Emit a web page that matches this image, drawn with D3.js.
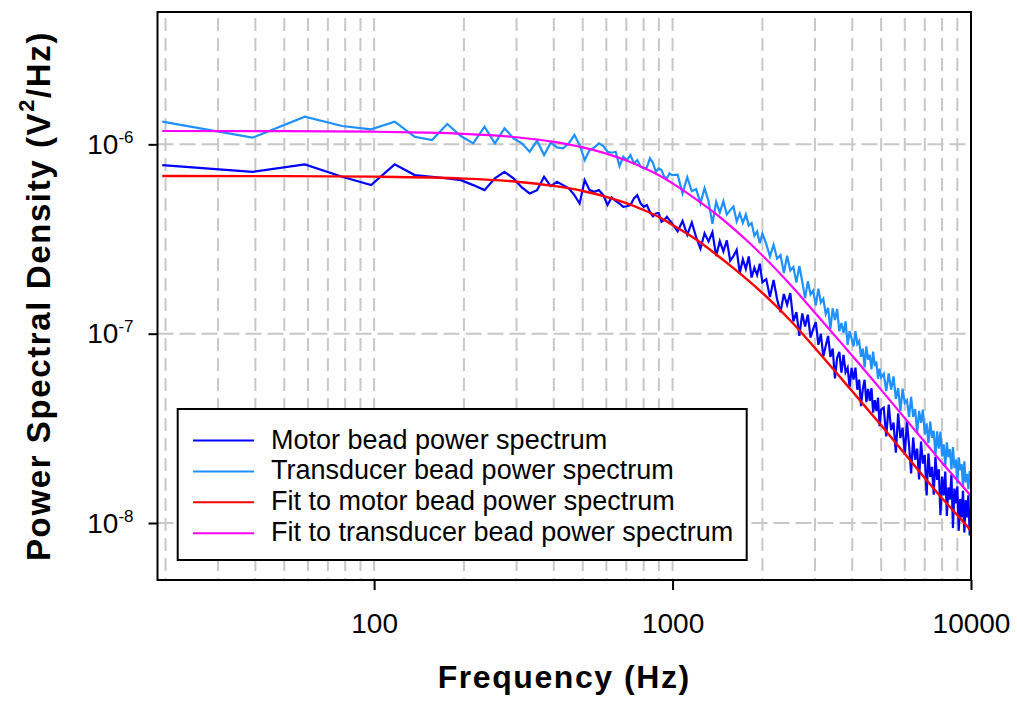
<!DOCTYPE html>
<html>
<head>
<meta charset="utf-8">
<script src="https://cdn.jsdelivr.net/npm/d3@7"></script>
<style>
  body { margin: 0; background: #fff; }
  text { font-family: "Liberation Sans", Arial, sans-serif; fill: #000; }
</style>
</head>
<body>
<div id="chart"></div>
<script>
// PSD values are written in units of 1e-9 V^2/Hz
const unit = 1e-9;

const freq = [
  19.5, 39.1, 58.6, 78.1, 97.7, 117.2, 136.7, 156.3, 175.8, 195.3,
  214.8, 234.4, 253.9, 273.4, 293, 312.5, 332, 351.6, 371.1, 390.6,
  410.2, 429.7, 449.2, 468.8, 488.3, 507.8, 527.3, 546.9, 566.4, 585.9,
  605.5, 625, 644.5, 664.1, 683.6, 703.1, 722.7, 742.2, 761.7, 781.3,
  800.8, 820.3, 839.8, 859.4, 878.9, 898.4, 918, 937.5, 957, 976.6,
  996.1,
  1040, 1080, 1120, 1160, 1200, 1240, 1280, 1320, 1360, 1400,
  1440, 1480, 1520, 1560, 1600, 1640, 1680, 1720, 1760, 1800,
  1840, 1880, 1920, 1960, 2000,
  2060, 2120, 2180, 2240, 2300, 2360, 2420, 2480, 2540, 2600,
  2660, 2720, 2780, 2840, 2900, 2960, 3020, 3080, 3140, 3200,
  3260, 3320, 3380, 3440, 3500, 3560, 3620, 3680, 3740, 3800,
  3860, 3920, 3980, 4040, 4100, 4160, 4220, 4280, 4340, 4400,
  4460, 4520, 4580, 4640, 4700, 4760, 4820, 4880, 4940, 5000,
  5100, 5200, 5300, 5400, 5500, 5600, 5700, 5800, 5900, 6000,
  6100, 6200, 6300, 6400, 6500, 6600, 6700, 6800, 6900, 7000,
  7100, 7200, 7300, 7400, 7500, 7600, 7700, 7800, 7900, 8000,
  8100, 8200, 8300, 8400, 8500, 8600, 8700, 8800, 8900, 9000,
  9100, 9200, 9300, 9400, 9500, 9600, 9700, 9800, 9900, 10000
];

const motorPsd = [
  777, 716, 784, 674, 609, 784, 688, 674, 661, 647,
  609, 573, 661, 716, 661, 592, 550, 573, 674, 602,
  634, 609, 585, 539, 487, 647, 573, 561, 573, 539,
  478, 524, 503, 487, 468, 471, 478, 518, 539, 487,
  468, 478, 440, 417, 431, 434, 390, 398, 414, 398,
  382,
  347, 394, 333, 387, 323, 281, 339, 307, 343, 257,
  308, 272, 311, 243, 257, 277, 209, 247, 220, 256,
  198, 223, 204, 234, 187,
  194, 156, 192, 152, 130, 162, 142, 164, 116, 130,
  97.3, 128, 109, 126, 95.4, 106, 115, 87.3, 99.7, 75.7,
  86.2, 97.3, 75.4, 83.5, 58.1, 74.7, 80.2, 62.2, 77.3, 62.6,
  66, 52.3, 65.9, 57.2, 66.1, 50.6, 57.2, 41.4, 51, 57.1,
  43.5, 51.1, 44.2, 51.6, 38.3, 44.6, 39, 45.9, 32.5, 39.7,
  40.7, 28.7, 42.2, 30.9, 33.9, 23.5, 37.9, 28.1, 31.9, 22.9,
  34.4, 25.8, 18.3, 28.3, 21.6, 24.7, 17, 26.9, 20.6, 22.9,
  14, 23.3, 17.5, 19.8, 14.1, 22.4, 16.9, 19.2, 11, 17.6,
  14, 18.7, 10.9, 15.4, 13.3, 18.1, 9.4, 15.2, 12.7, 15.6,
  9.1, 13.4, 10.7, 14.8, 8.9, 13.2, 10.7, 14, 8.6, 10.9
];

const transducerPsd = [
  1317, 1084, 1400, 1250, 1200, 1317, 1097, 1054, 1280, 1106,
  1012, 1239, 1012, 1215, 1076, 1012, 914, 1044, 878, 1020,
  964, 953, 1012, 1120, 991, 826, 933, 964, 1012, 980,
  914, 903, 914, 768, 860, 826, 878, 793, 826, 761,
  746, 755, 844, 799, 716, 746, 731, 674, 661, 702,
  688,
  692, 551, 670, 565, 580, 489, 587, 501, 380, 496,
  437, 501, 426, 449, 469, 391, 431, 385, 426, 372,
  384, 329, 346, 300, 338,
  298, 256, 295, 249, 260, 209, 258, 216, 225, 186,
  228, 188, 154, 189, 161, 169, 141, 173, 146, 153,
  127, 137, 106, 136, 118, 135, 103, 114, 101, 116,
  87.4, 103, 94.3, 85.6, 103, 88.2, 91.5, 75.5, 83.5, 66.4,
  85.6, 73, 77.2, 64.8, 80.4, 67.3, 71.1, 57.8, 65.3, 58.7,
  61.4, 49.7, 61.6, 50.6, 59.5, 45.2, 51.6, 39.1, 51.2, 43.1,
  44.5, 36.4, 46.4, 36.4, 40, 29.8, 39.1, 33.8, 39.7, 29.3,
  33.6, 26.4, 34.3, 28.2, 30.7, 22.7, 30.5, 24.7, 30.4, 22.5,
  26, 19.9, 26.7, 22.3, 24.5, 19.2, 25.2, 19.5, 21.6, 16.2,
  22.2, 19, 20.5, 15.6, 21.2, 16.4, 18.2, 15.1, 18.8, 16.5
];

const fitFreq = [19.5, 50, 100, 150, 200, 300, 400, 500, 600, 700, 800, 900, 1000,
  1200, 1400, 1600, 1800, 2000, 2500, 3000, 3500, 4000, 5000, 6000, 7000, 8000, 9000, 10000];
const motorFit = [680, 679, 675, 668, 659, 635, 603, 567, 528, 489, 450, 413, 375,
  314, 262, 222, 190, 164, 116, 84, 63.5, 49.6, 32.8, 23.2, 17.3, 13.5, 11.0, 9.1];
const transducerFit = [1176, 1173, 1166, 1153, 1136, 1090, 1031, 964, 893, 821, 752, 686, 622,
  512, 428, 359, 304, 259, 179, 129, 97.5, 76.5, 50.5, 35.8, 26.8, 20.8, 16.8, 13.9];

const seriesNames = [
  "Motor bead power spectrum",
  "Transducer bead power spectrum",
  "Fit to motor bead power spectrum",
  "Fit to transducer bead power spectrum"
];
const seriesColors = ["#0000ff", "#1e90ff", "#ff0000", "#ff00ff"];

const xTicks = [100, 1000, 10000];
const yTicks = [1e-6, 1e-7, 1e-8];
const yTickExp = ["-6", "-7", "-8"];

const width = 1017, height = 703;
const margin = { top: 12, right: 46, bottom: 123, left: 157.5 };
const bottom = height - margin.bottom;
const right = width - margin.right;

const svg = d3.select("#chart")
  .append("svg")
  .attr("width", width)
  .attr("height", height);

const x = d3.scaleLog().domain([18.8, 10000]).range([margin.left, right]);
const y = d3.scaleLog().domain([5e-9, 5e-6]).range([bottom, margin.top]);

// grid
svg.append("g")
  .selectAll("line")
  .data(x.ticks().filter(d => d < 10000))
  .join("line")
  .attr("x1", d => x(d)).attr("x2", d => x(d))
  .attr("y1", margin.top).attr("y2", bottom)
  .attr("stroke", "#c8c8c8")
  .attr("stroke-width", 2)
  .attr("stroke-dasharray", "13,7")
  .attr("stroke-dashoffset", -6);

svg.append("g")
  .selectAll("line")
  .data(yTicks)
  .join("line")
  .attr("x1", margin.left).attr("x2", right)
  .attr("y1", d => y(d)).attr("y2", d => y(d))
  .attr("stroke", "#c8c8c8")
  .attr("stroke-width", 2)
  .attr("stroke-dasharray", "16,6");

svg.append("clipPath").attr("id", "plotClip")
  .append("rect")
  .attr("x", margin.left).attr("y", margin.top)
  .attr("width", right - margin.left).attr("height", bottom - margin.top);

const plot = svg.append("g").attr("clip-path", "url(#plotClip)");

const dataLine = d3.line()
  .x((d, i) => x(freq[i]))
  .y(d => y(d * unit));

const fitLine = d3.line()
  .x((d, i) => x(fitFreq[i]))
  .y(d => y(d * unit))
  .curve(d3.curveMonotoneX);

plot.append("path").datum(motorPsd)
  .attr("d", dataLine).attr("fill", "none")
  .attr("stroke", seriesColors[0]).attr("stroke-width", 2.2)
  .attr("stroke-linejoin", "miter");

plot.append("path").datum(transducerPsd)
  .attr("d", dataLine).attr("fill", "none")
  .attr("stroke", seriesColors[1]).attr("stroke-width", 2.2)
  .attr("stroke-linejoin", "miter");

plot.append("path").datum(motorFit)
  .attr("d", fitLine).attr("fill", "none")
  .attr("stroke", seriesColors[2]).attr("stroke-width", 2.4);

plot.append("path").datum(transducerFit)
  .attr("d", fitLine).attr("fill", "none")
  .attr("stroke", seriesColors[3]).attr("stroke-width", 2.2);

// frame
svg.append("rect")
  .attr("x", margin.left).attr("y", margin.top)
  .attr("width", right - margin.left).attr("height", bottom - margin.top)
  .attr("fill", "none").attr("stroke", "#000").attr("stroke-width", 2);

// axes
const xAxis = svg.append("g")
  .attr("transform", `translate(0,${bottom})`)
  .call(d3.axisBottom(x).tickValues(xTicks).tickSize(10).tickPadding(23)
    .tickFormat(d3.format("d")));
xAxis.select(".domain").remove();
xAxis.selectAll("line").attr("stroke", "#000").attr("stroke-width", 2);
xAxis.selectAll("text")
  .style("font-family", '"Liberation Sans", Arial, sans-serif')
  .style("font-size", "28px");

const yAxis = svg.append("g")
  .attr("transform", `translate(${margin.left},0)`)
  .call(d3.axisLeft(y).tickValues(yTicks).tickSize(9).tickFormat(""));
yAxis.select(".domain").remove();
yAxis.selectAll("line").attr("stroke", "#000").attr("stroke-width", 2);
yAxis.selectAll(".tick text").remove();
yAxis.selectAll(".tick").each(function(d, i) {
  const t = d3.select(this).append("text")
    .attr("x", -24).attr("y", 9)
    .attr("text-anchor", "end")
    .style("font-size", "28px");
  t.append("tspan").text("10");
  t.append("tspan").attr("dy", -11).style("font-size", "17px").text(yTickExp[i]);
});

function spreadTo(sel, target) {
  const n = sel.text().length;
  const w = sel.node().getComputedTextLength();
  sel.style("letter-spacing", ((target - w) / n) + "px");
}

// axis titles
const xTitle = svg.append("text")
  .attr("x", (margin.left + right) / 2).attr("y", 688)
  .attr("text-anchor", "middle")
  .style("font-size", "32px").style("font-weight", "bold")
  .text("Frequency (Hz)");
spreadTo(xTitle, 253);

const yTitle = svg.append("text")
  .attr("transform", `translate(50,${(margin.top + bottom) / 2}) rotate(-90)`)
  .attr("text-anchor", "middle")
  .style("font-size", "33px").style("font-weight", "bold");
yTitle.append("tspan").text("Power Spectral Density (V");
yTitle.append("tspan").attr("dy", -16).style("font-size", "22px").text("2");
yTitle.append("tspan").attr("dy", 16).text("/Hz)");
spreadTo(yTitle, 530);

// legend
const legend = svg.append("g");
legend.append("rect")
  .attr("x", 177.7).attr("y", 409)
  .attr("width", 569).attr("height", 151)
  .attr("fill", "#fff").attr("stroke", "#000").attr("stroke-width", 2);

const rows = legend.selectAll("g.row")
  .data(seriesNames)
  .join("g")
  .attr("class", "row")
  .attr("transform", (d, i) => `translate(0,${440.5 + i * 30.9})`);

rows.append("line")
  .attr("x1", 193).attr("x2", 254)
  .attr("stroke", (d, i) => seriesColors[i])
  .attr("stroke-width", 2);

rows.append("text")
  .attr("x", 271).attr("y", 8)
  .style("font-size", "27px")
  .text(d => d);
</script>
</body>
</html>
